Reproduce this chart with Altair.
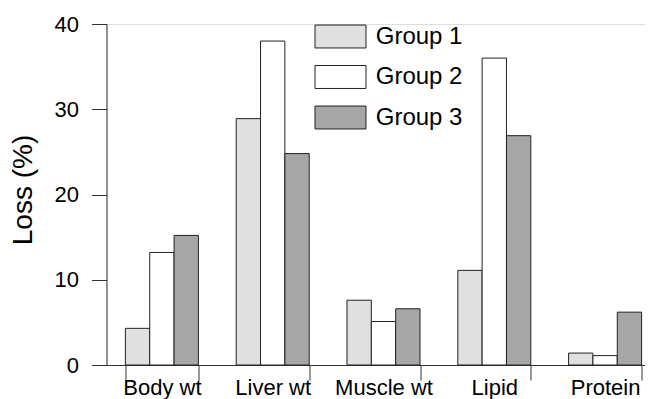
import altair as alt
import pandas as pd

categories = ["Body wt", "Liver wt", "Muscle wt", "Lipid", "Protein"]
groups = ["Group 1", "Group 2", "Group 3"]
group1 = [4.3, 28.9, 7.6, 11.1, 1.4]
group2 = [13.2, 38.0, 5.1, 36.0, 1.1]
group3 = [15.2, 24.8, 6.6, 26.9, 6.2]
colors = ["#e0e0e0", "#ffffff", "#a6a6a6"]
y_ticks = [0, 10, 20, 30, 40]

rows = []
for g, vals in zip(groups, [group1, group2, group3]):
    for c, v in zip(categories, vals):
        rows.append({"category": c, "group": g, "loss": v})
df = pd.DataFrame(rows)

FONT = "Liberation Sans"
AX = "#333333"

chart = alt.Chart(df).mark_bar(stroke="#222222", strokeWidth=1).encode(
    x=alt.X(
        "category:N",
        sort=categories,
        scale=alt.Scale(range=[0, 554], paddingInner=0.341, paddingOuter=0.1705),
        axis=alt.Axis(
            title=None, labelAngle=0, labelFontSize=22, labelFont=FONT,
            labelColor="#000000", tickSize=15, tickBand="extent", labelPadding=-3,
            domainColor=AX, tickColor=AX, domainWidth=1, tickWidth=1,
        ),
    ),
    xOffset=alt.XOffset("group:N", sort=groups,
                        scale=alt.Scale(paddingInner=0, paddingOuter=0)),
    y=alt.Y(
        "loss:Q",
        scale=alt.Scale(domain=[0, 40], nice=False),
        axis=alt.Axis(
            values=y_ticks, title="Loss (%)", titleFontSize=28, titleFont=FONT,
            titleFontWeight="normal", titleColor="#000000",
            titleX=-83, titleY=165.5, titleAngle=270, titleAlign="center",
            titleBaseline="middle",
            labelFontSize=22, labelFont=FONT, labelColor="#000000",
            labelPadding=13, tickSize=15, domainColor=AX, tickColor=AX,
            domainWidth=1, tickWidth=1, grid=False,
        ),
    ),
    fill=alt.Fill(
        "group:N",
        scale=alt.Scale(domain=groups, range=colors),
        legend=alt.Legend(
            title=None, orient="none", legendX=220.5, legendY=-1,
            symbolType="M-2,-0.9H2V0.9H-2Z", symbolSize=650,
            symbolStrokeColor="#222222", symbolStrokeWidth=1, symbolOpacity=1,
            labelFontSize=24, labelFont=FONT, labelColor="#000000",
            labelOffset=21.75, rowPadding=13.5, padding=0,
        ),
    ),
).properties(
    width=538.5,
    height=341,
    autosize=alt.AutoSizeParams(type="none"),
    padding={"left": 98.5, "top": 16, "right": 0, "bottom": 35},
).configure_view(stroke=None).configure(background="#ffffff")

chart.save("out.html", embed_options={"renderer": "svg", "actions": False})
